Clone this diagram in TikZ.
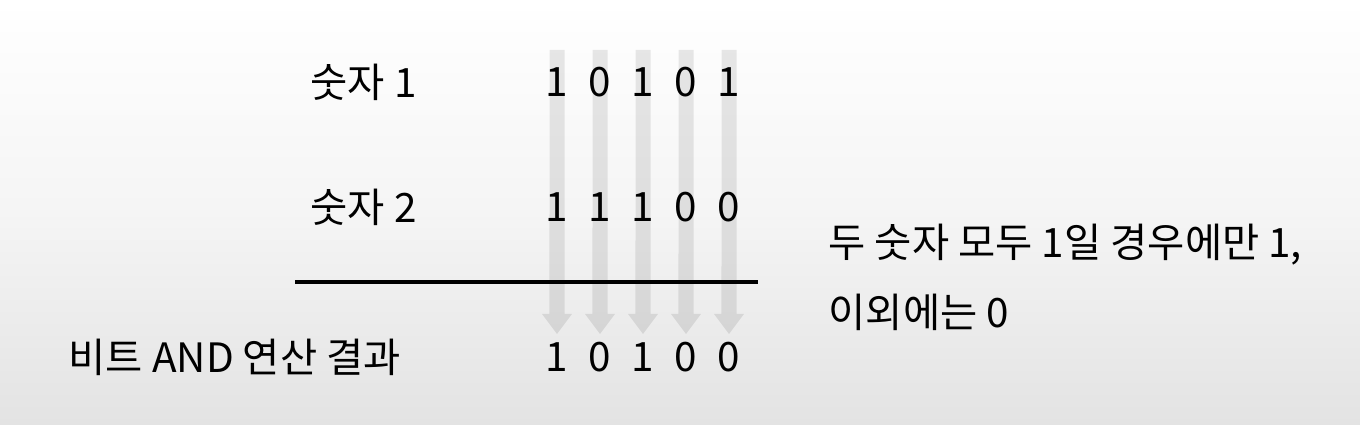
\documentclass[tikz,border=0pt]{standalone}
\usepackage{fontspec}
\setmainfont{Noto Sans CJK KR}
\begin{document}
\begin{tikzpicture}[x=0.01cm,y=-0.01cm,
  rowtxt/.style={anchor=west,inner sep=0pt,font=\fontsize{11.5}{14}\selectfont},
  bit/.style={inner sep=0pt,font=\fontsize{11.5}{14}\selectfont},
  bitarrow/.style={fill=black,fill opacity=0.09}]
\useasboundingbox (0,0) rectangle (1360,425);
\shade[top color=white,bottom color=black!11,middle color=black!4]
  (0,0) rectangle (1360,425);
% arrows behind the bits
\foreach \i in {1,...,5}{
  \coordinate (top\i) at ({514+43*\i},50);
  \coordinate (tip\i) at ({514+43*\i},334);
  \fill[bitarrow] (top\i) ++(-7.5,0) -- ++(15,0) -- ([xshift=0.075cm,yshift=0.2cm]tip\i)
    -- ++(7.5,0) -- (tip\i) -- ([xshift=-0.15cm,yshift=0.2cm]tip\i) -- ++(7.5,0) -- cycle;
}
\coordinate (lineL) at (295,282);
\coordinate (lineR) at (758,282);
\draw[line width=0.9pt] (lineL) -- (lineR);
\node[rowtxt] (num1) at (310,82) {숫자 1};
\node[rowtxt] (num2) at (310,207) {숫자 2};
\node[rowtxt] (res) at (68,357) {비트 AND 연산 결과};
\foreach \b [count=\i] in {1,0,1,0,1}
  \node[bit] (a\i) at ({514+43*\i},82) {\b};
\foreach \b [count=\i] in {1,1,1,0,0}
  \node[bit] (b\i) at ({514+43*\i},207) {\b};
\foreach \b [count=\i] in {1,0,1,0,0}
  \node[bit] (r\i) at ({514+43*\i},357) {\b};
\node[rowtxt] (note1) at (828,245) {두 숫자 모두 1일 경우에만 1,};
\node[rowtxt] (note2) at (828,312) {이외에는 0};
\end{tikzpicture}
\end{document}
